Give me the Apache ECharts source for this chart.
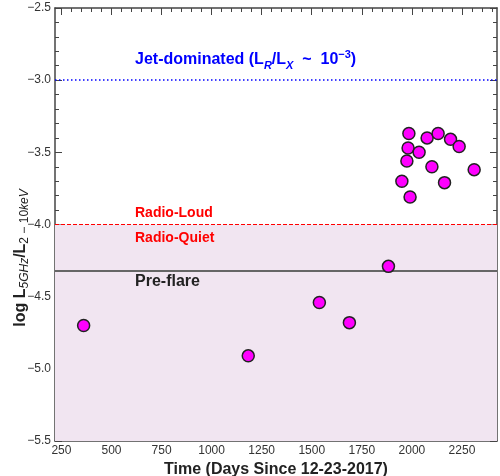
<!DOCTYPE html>
<html>
<head>
<meta charset="utf-8">
<script src="https://cdn.jsdelivr.net/npm/echarts@6/dist/echarts.min.js"></script>
<style>
  html, body { margin: 0; padding: 0; background: #fff; }
  #chart { width: 500px; height: 476px; }
</style>
</head>
<body>
<div id="chart"></div>
<script>
// days since 12-23-2017 and log(L5GHz / L2-10keV)
const days = [361, 1183, 1538, 1688, 1883, 1950, 1975, 1981, 1985, 1991, 2036, 2076, 2100, 2131, 2163, 2193, 2236, 2311]
const logRatio = [-4.70, -4.91, -4.54, -4.68, -4.29, -3.70, -3.56, -3.47, -3.37, -3.81, -3.50, -3.40, -3.60, -3.37, -3.71, -3.41, -3.46, -3.62]

// reference levels
const jetLevel = -3.0
const radioLoudLevel = -4.0
const preFlareLevel = -4.32

// axes
const xMin = 218
const xMax = 2425
const xTicks = [250, 500, 750, 1000, 1250, 1500, 1750, 2000, 2250]
const xMinorTicks = []
for (let v = 250; v <= 2400; v += 50) xMinorTicks.push(v)
const yMin = -5.5
const yMax = -2.5

const FONT = 'Liberation Sans'
const AXIS_COLOR = '#444'

const myChart = echarts.init(document.getElementById('chart'), null, { renderer: 'canvas' })

function xAxisDef (position, ticks, len, showLine, showLabel) {
  return {
    type: 'value',
    position: position,
    min: xMin,
    max: xMax,
    axisLine: { show: showLine, onZero: false, lineStyle: { color: AXIS_COLOR, width: 1.5 } },
    axisTick: { show: true, inside: true, length: len, customValues: ticks, lineStyle: { color: AXIS_COLOR, width: 1 } },
    axisLabel: { show: showLabel, customValues: ticks, color: '#333', fontSize: 12, fontFamily: FONT, margin: 4, formatter: v => String(v) },
    splitLine: { show: false }
  }
}

function yAxisDef (position, showLabel) {
  return {
    type: 'value',
    position: position,
    min: yMin,
    max: yMax,
    interval: 0.5,
    axisLine: { show: true, onZero: false, lineStyle: { color: AXIS_COLOR, width: 1.5 } },
    axisTick: { show: true, inside: true, length: 7, lineStyle: { color: AXIS_COLOR, width: 1 } },
    minorTick: { show: true, splitNumber: 5, length: 4, lineStyle: { color: AXIS_COLOR, width: 1 } },
    axisLabel: {
      show: showLabel,
      color: '#333',
      fontSize: 12,
      fontFamily: FONT,
      margin: 4,
      formatter: v => v.toFixed(1).replace('-', '\u2212')
    },
    splitLine: { show: false }
  }
}

const bottomX = xAxisDef('bottom', xTicks, 7, true, true)
bottomX.name = 'Time (Days Since 12-23-2017)'
bottomX.nameLocation = 'middle'
bottomX.nameGap = 18
bottomX.nameTextStyle = { fontSize: 16, fontWeight: 'bold', color: '#222', fontFamily: FONT }

const option = {
  animation: false,
  grid: { left: 55, right: 3, top: 8, bottom: 35, containLabel: false, outerBoundsMode: 'none' },
  xAxis: [
    bottomX,
    xAxisDef('bottom', xMinorTicks, 4, false, false),
    xAxisDef('top', xTicks, 7, true, false),
    xAxisDef('top', xMinorTicks, 4, false, false)
  ],
  yAxis: [
    yAxisDef('left', true),
    yAxisDef('right', false)
  ],
  series: [
    {
      name: 'ratio',
      type: 'scatter',
      xAxisIndex: 0,
      yAxisIndex: 0,
      symbolSize: 12,
      z: 5,
      itemStyle: { color: '#ff00ff', borderColor: '#222', borderWidth: 1.5, opacity: 1 },
      data: days.map((d, i) => [d, logRatio[i]]),
      markArea: {
        silent: true,
        itemStyle: { color: '#f1e5f1' },
        data: [[{ yAxis: yMin }, { yAxis: radioLoudLevel }]]
      },
      markLine: {
        silent: true,
        symbol: 'none',
        label: { show: false },
        animation: false,
        data: [
          { yAxis: jetLevel, lineStyle: { color: '#0000ff', width: 1.5, type: [1.5, 2.5] } },
          { yAxis: radioLoudLevel, lineStyle: { color: '#ff0000', width: 1, type: [4, 2] } },
          { yAxis: preFlareLevel, lineStyle: { color: '#666', width: 2, type: 'solid' } }
        ]
      }
    }
  ],
  graphic: [
    {
      type: 'text',
      x: 135,
      y: 60,
      z: 100,
      style: {
        text: '{b|Jet-dominated (L}{sub|R}{b|/L}{sub|X}{b|  ~  10}{sup|\u22123}{b|)}',
        verticalAlign: 'middle',
        rich: {
          b: { fontSize: 16, fontWeight: 'bold', fill: '#0000ff', fontFamily: FONT, lineHeight: 22 },
          sub: { fontSize: 11, fontWeight: 'bold', fontStyle: 'italic', fill: '#0000ff', fontFamily: FONT, lineHeight: 10, verticalAlign: 'bottom' },
          sup: { fontSize: 11, fontWeight: 'bold', fill: '#0000ff', fontFamily: FONT, lineHeight: 10, verticalAlign: 'top' }
        }
      }
    },
    {
      type: 'text',
      x: 135,
      y: 213,
      z: 100,
      style: { text: 'Radio-Loud', fill: '#ff0000', fontSize: 14, fontWeight: 'bold', fontFamily: FONT, verticalAlign: 'middle' }
    },
    {
      type: 'text',
      x: 135,
      y: 238,
      z: 100,
      style: { text: 'Radio-Quiet', fill: '#ff0000', fontSize: 14, fontWeight: 'bold', fontFamily: FONT, verticalAlign: 'middle' }
    },
    {
      type: 'text',
      x: 135,
      y: 282,
      z: 100,
      style: { text: 'Pre-flare', fill: '#222', fontSize: 16, fontWeight: 'bold', fontFamily: FONT, verticalAlign: 'middle' }
    },
    {
      type: 'text',
      x: 21,
      y: 258,
      z: 100,
      rotation: Math.PI / 2,
      style: {
        text: '{b|log L}{subi|5GHz}{b|/L}{sub|2 \u2212 10}{subi|keV}',
        align: 'center',
        verticalAlign: 'middle',
        rich: {
          b: { fontSize: 16, fontWeight: 'bold', fill: '#222', fontFamily: FONT, lineHeight: 20 },
          sub: { fontSize: 12, fill: '#222', fontFamily: FONT, lineHeight: 11, verticalAlign: 'bottom' },
          subi: { fontSize: 12, fontStyle: 'italic', fill: '#222', fontFamily: FONT, lineHeight: 11, verticalAlign: 'bottom' }
        }
      }
    }
  ]
}

myChart.setOption(option)
</script>
</body>
</html>
